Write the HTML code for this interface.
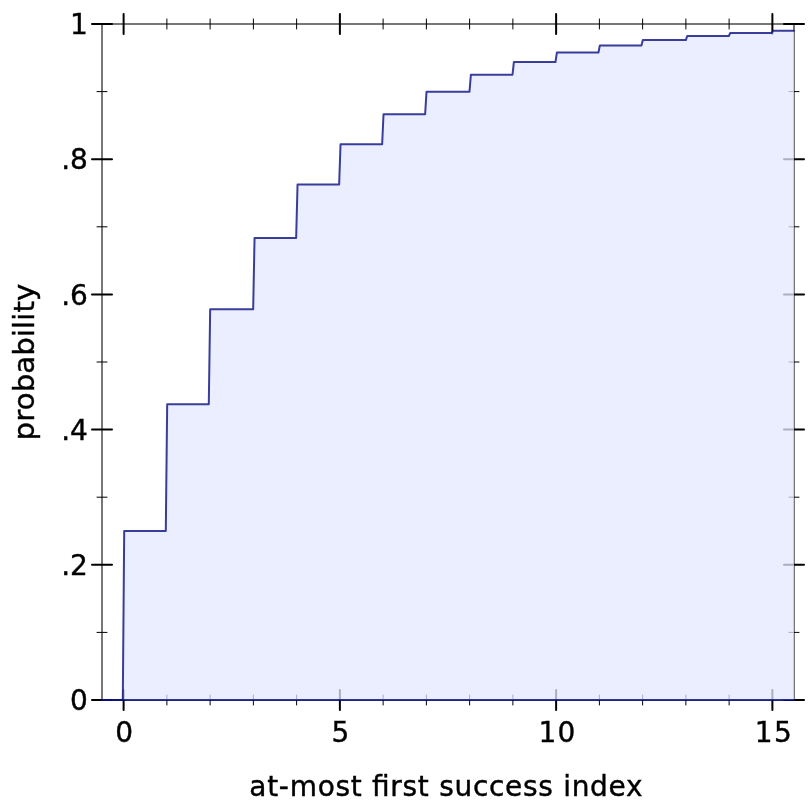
<!DOCTYPE html>
<html><head><meta charset="utf-8"><title>plot</title>
<style>html,body{margin:0;padding:0;background:#fff}svg{display:block}</style></head>
<body>
<svg width="812" height="812" viewBox="0 0 812 812">
<rect width="812" height="812" fill="#fff"/>
<g stroke="#777" stroke-width="2" fill="none" stroke-linecap="butt">
<line x1="102.0" y1="24.0" x2="102.0" y2="700.0"/>
<line x1="794.0" y1="24.0" x2="794.0" y2="700.0"/>
<line x1="102.0" y1="24.0" x2="794.0" y2="24.0"/>
<line x1="102.0" y1="700.0" x2="794.0" y2="700.0"/>
</g>
<g stroke="#000" stroke-linecap="round">
<line x1="123.62" y1="14.0" x2="123.62" y2="34.0" stroke-width="2"/>
<line x1="123.62" y1="690.0" x2="123.62" y2="710.0" stroke-width="2"/>
<line x1="166.88" y1="19.0" x2="166.88" y2="29.0" stroke-width="1"/>
<line x1="166.88" y1="695.0" x2="166.88" y2="705.0" stroke-width="1"/>
<line x1="210.12" y1="19.0" x2="210.12" y2="29.0" stroke-width="1"/>
<line x1="210.12" y1="695.0" x2="210.12" y2="705.0" stroke-width="1"/>
<line x1="253.38" y1="19.0" x2="253.38" y2="29.0" stroke-width="1"/>
<line x1="253.38" y1="695.0" x2="253.38" y2="705.0" stroke-width="1"/>
<line x1="296.62" y1="19.0" x2="296.62" y2="29.0" stroke-width="1"/>
<line x1="296.62" y1="695.0" x2="296.62" y2="705.0" stroke-width="1"/>
<line x1="339.88" y1="14.0" x2="339.88" y2="34.0" stroke-width="2"/>
<line x1="339.88" y1="690.0" x2="339.88" y2="710.0" stroke-width="2"/>
<line x1="383.12" y1="19.0" x2="383.12" y2="29.0" stroke-width="1"/>
<line x1="383.12" y1="695.0" x2="383.12" y2="705.0" stroke-width="1"/>
<line x1="426.38" y1="19.0" x2="426.38" y2="29.0" stroke-width="1"/>
<line x1="426.38" y1="695.0" x2="426.38" y2="705.0" stroke-width="1"/>
<line x1="469.62" y1="19.0" x2="469.62" y2="29.0" stroke-width="1"/>
<line x1="469.62" y1="695.0" x2="469.62" y2="705.0" stroke-width="1"/>
<line x1="512.88" y1="19.0" x2="512.88" y2="29.0" stroke-width="1"/>
<line x1="512.88" y1="695.0" x2="512.88" y2="705.0" stroke-width="1"/>
<line x1="556.12" y1="14.0" x2="556.12" y2="34.0" stroke-width="2"/>
<line x1="556.12" y1="690.0" x2="556.12" y2="710.0" stroke-width="2"/>
<line x1="599.38" y1="19.0" x2="599.38" y2="29.0" stroke-width="1"/>
<line x1="599.38" y1="695.0" x2="599.38" y2="705.0" stroke-width="1"/>
<line x1="642.62" y1="19.0" x2="642.62" y2="29.0" stroke-width="1"/>
<line x1="642.62" y1="695.0" x2="642.62" y2="705.0" stroke-width="1"/>
<line x1="685.88" y1="19.0" x2="685.88" y2="29.0" stroke-width="1"/>
<line x1="685.88" y1="695.0" x2="685.88" y2="705.0" stroke-width="1"/>
<line x1="729.12" y1="19.0" x2="729.12" y2="29.0" stroke-width="1"/>
<line x1="729.12" y1="695.0" x2="729.12" y2="705.0" stroke-width="1"/>
<line x1="772.38" y1="14.0" x2="772.38" y2="34.0" stroke-width="2"/>
<line x1="772.38" y1="690.0" x2="772.38" y2="710.0" stroke-width="2"/>
<line x1="92.0" y1="700.00" x2="112.0" y2="700.00" stroke-width="2"/>
<line x1="784.0" y1="700.00" x2="804.0" y2="700.00" stroke-width="2"/>
<line x1="97.0" y1="632.40" x2="107.0" y2="632.40" stroke-width="1"/>
<line x1="789.0" y1="632.40" x2="799.0" y2="632.40" stroke-width="1"/>
<line x1="92.0" y1="564.80" x2="112.0" y2="564.80" stroke-width="2"/>
<line x1="784.0" y1="564.80" x2="804.0" y2="564.80" stroke-width="2"/>
<line x1="97.0" y1="497.20" x2="107.0" y2="497.20" stroke-width="1"/>
<line x1="789.0" y1="497.20" x2="799.0" y2="497.20" stroke-width="1"/>
<line x1="92.0" y1="429.60" x2="112.0" y2="429.60" stroke-width="2"/>
<line x1="784.0" y1="429.60" x2="804.0" y2="429.60" stroke-width="2"/>
<line x1="97.0" y1="362.00" x2="107.0" y2="362.00" stroke-width="1"/>
<line x1="789.0" y1="362.00" x2="799.0" y2="362.00" stroke-width="1"/>
<line x1="92.0" y1="294.40" x2="112.0" y2="294.40" stroke-width="2"/>
<line x1="784.0" y1="294.40" x2="804.0" y2="294.40" stroke-width="2"/>
<line x1="97.0" y1="226.80" x2="107.0" y2="226.80" stroke-width="1"/>
<line x1="789.0" y1="226.80" x2="799.0" y2="226.80" stroke-width="1"/>
<line x1="92.0" y1="159.20" x2="112.0" y2="159.20" stroke-width="2"/>
<line x1="784.0" y1="159.20" x2="804.0" y2="159.20" stroke-width="2"/>
<line x1="97.0" y1="91.60" x2="107.0" y2="91.60" stroke-width="1"/>
<line x1="789.0" y1="91.60" x2="799.0" y2="91.60" stroke-width="1"/>
<line x1="92.0" y1="24.00" x2="112.0" y2="24.00" stroke-width="2"/>
<line x1="784.0" y1="24.00" x2="804.0" y2="24.00" stroke-width="2"/>
</g>
<polygon points="102.00,700.00 122.80,700.00 124.19,531.00 165.79,531.00 167.18,404.25 208.78,404.25 210.17,309.19 253.16,309.19 254.55,237.89 296.15,237.89 297.54,184.42 339.14,184.42 340.53,144.31 382.13,144.31 383.52,114.24 425.12,114.24 426.51,91.68 469.49,91.68 470.88,74.76 512.48,74.76 513.87,62.07 555.47,62.07 556.86,52.55 598.46,52.55 599.85,45.41 641.45,45.41 642.84,40.06 685.83,40.06 687.22,36.04 728.82,36.04 730.21,33.03 771.81,33.03 773.20,30.78 794.00,30.78 794.00,700.00 102.00,700.00" fill="rgb(227,232,255)" fill-opacity="0.75"/>
<line x1="102.0" y1="700.0" x2="794.0" y2="700.0" stroke="#0a0e82" stroke-opacity="0.8" stroke-width="2" stroke-linecap="round"/>
<polyline points="102.00,700.00 122.80,700.00 124.19,531.00 165.79,531.00 167.18,404.25 208.78,404.25 210.17,309.19 253.16,309.19 254.55,237.89 296.15,237.89 297.54,184.42 339.14,184.42 340.53,144.31 382.13,144.31 383.52,114.24 425.12,114.24 426.51,91.68 469.49,91.68 470.88,74.76 512.48,74.76 513.87,62.07 555.47,62.07 556.86,52.55 598.46,52.55 599.85,45.41 641.45,45.41 642.84,40.06 685.83,40.06 687.22,36.04 728.82,36.04 730.21,33.03 771.81,33.03 773.20,30.78 794.00,30.78" fill="none" stroke="#0a0e82" stroke-opacity="0.8" stroke-width="2" stroke-linejoin="round" stroke-linecap="round"/>
<g font-family="'DejaVu Sans', 'Liberation Sans', sans-serif" fill="#000" stroke="#000" stroke-width="0.4">
<text transform="translate(124.12,742.10)" font-size="28.0" text-anchor="middle">0</text>
<text transform="translate(340.38,742.10)" font-size="28.0" text-anchor="middle">5</text>
<text transform="translate(557.62,742.10)" font-size="28.0" text-anchor="middle" style="letter-spacing:1.2px;font-feature-settings:'liga' 1">10</text>
<text transform="translate(773.88,742.10)" font-size="28.0" text-anchor="middle" style="letter-spacing:1.2px;font-feature-settings:'liga' 1">15</text>
<text transform="translate(87.90,710.15)" font-size="28.0" text-anchor="end">0</text>
<text transform="translate(87.90,574.95)" font-size="28.0" text-anchor="end">.2</text>
<text transform="translate(87.90,439.75)" font-size="28.0" text-anchor="end">.4</text>
<text transform="translate(87.90,304.55)" font-size="28.0" text-anchor="end">.6</text>
<text transform="translate(87.90,169.35)" font-size="28.0" text-anchor="end">.8</text>
<text transform="translate(87.90,34.15)" font-size="28.0" text-anchor="end">1</text>
<text transform="translate(446.30,796.00)" font-size="28.0" text-anchor="middle" style="letter-spacing:0.7px;font-feature-settings:'liga' 1">at-most first success index</text>
<text transform="translate(33.70,362.00) rotate(-90)" font-size="29.2" text-anchor="middle" style="letter-spacing:0.1px;font-feature-settings:'liga' 1">probability</text>
</g>
</svg>
</body></html>
